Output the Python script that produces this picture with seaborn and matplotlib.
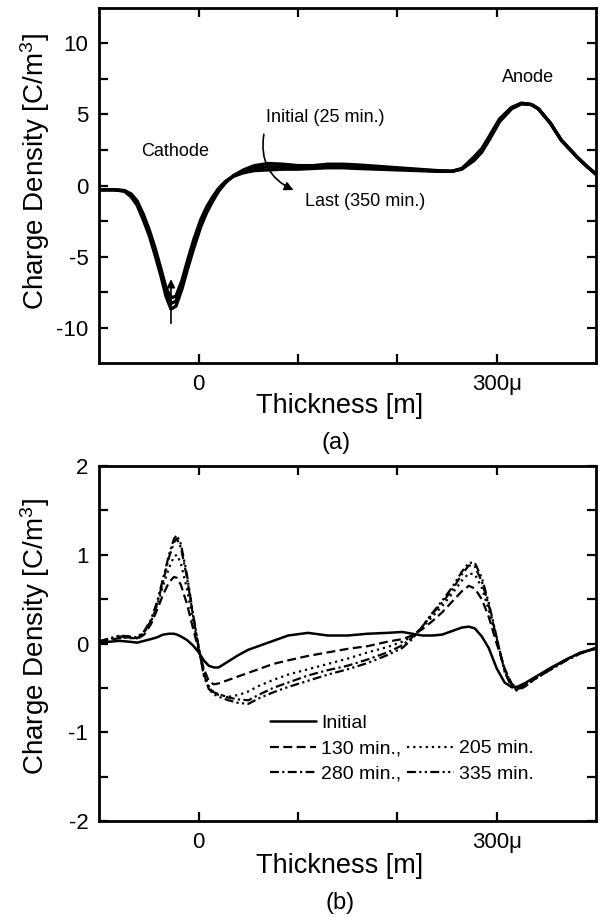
import matplotlib
matplotlib.use("Agg")
import matplotlib.pyplot as plt
from matplotlib.lines import Line2D
import seaborn as sns

# ---- panel (a): charge density, bundle of profiles 25 -> 350 min ----
x_top = [-100, -85, -75, -68, -62, -56, -50, -44, -38, -33, -28, -23, -17, -11,
         -5, 2, 8, 14, 20, 27, 35, 45, 56, 70, 85, 100, 115, 130, 145, 160,
         180, 200, 220, 240, 255, 265, 277, 285, 292, 303, 315, 325, 335, 342,
         354, 365, 381, 390, 400]
rho_first = [-0.30, -0.30, -0.40, -0.80, -1.40, -2.40, -3.50, -4.90, -6.40, -7.80,
             -8.70, -8.50, -7.30, -5.80, -4.40, -2.90, -1.90, -1.10, -0.40, 0.20,
             0.70, 1.10, 1.40, 1.55, 1.50, 1.40, 1.40, 1.50, 1.50, 1.45,
             1.35, 1.25, 1.15, 1.05, 1.00, 1.20, 2.00, 2.60, 3.40, 4.70,
             5.50, 5.80, 5.70, 5.40, 4.40, 3.20, 2.00, 1.40, 0.80]
rho_mid = [-0.30, -0.30, -0.38, -0.70, -1.25, -2.20, -3.30, -4.65, -6.15, -7.50,
           -8.30, -8.15, -7.00, -5.50, -4.10, -2.65, -1.70, -0.95, -0.30, 0.25,
           0.68, 1.00, 1.22, 1.32, 1.32, 1.28, 1.30, 1.38, 1.38, 1.32,
           1.25, 1.18, 1.10, 1.02, 1.00, 1.18, 1.88, 2.48, 3.28, 4.60,
           5.45, 5.78, 5.70, 5.40, 4.40, 3.20, 2.00, 1.40, 0.80]
rho_last = [-0.30, -0.30, -0.35, -0.60, -1.10, -2.00, -3.10, -4.40, -5.90, -7.20,
            -7.90, -7.80, -6.70, -5.20, -3.80, -2.40, -1.50, -0.80, -0.20, 0.30,
            0.65, 0.90, 1.05, 1.10, 1.15, 1.15, 1.20, 1.25, 1.25, 1.20,
            1.15, 1.10, 1.05, 1.00, 1.00, 1.15, 1.75, 2.35, 3.15, 4.50,
            5.40, 5.75, 5.70, 5.40, 4.40, 3.20, 2.00, 1.40, 0.80]

# ---- panel (b): difference profiles ----
x_bot = [-100, -90, -80, -70, -62, -55, -48, -42, -36, -30, -25, -22, -18, -12,
         -6, 0, 5, 10, 15, 20, 30, 40, 50, 60, 75, 90, 110, 130, 150, 170,
         190, 205, 215, 225, 235, 245, 255, 265, 272, 278, 285, 292, 300, 308,
         315, 320, 328, 340, 355, 370, 385, 400]
d_initial = [0.00, 0.02, 0.03, 0.02, 0.01, 0.03, 0.05, 0.07, 0.10, 0.11, 0.11, 0.10,
             0.08, 0.04, -0.02, -0.10, -0.19, -0.25, -0.27, -0.27, -0.20, -0.13,
             -0.07, -0.03, 0.03, 0.09, 0.12, 0.09, 0.09, 0.11, 0.12, 0.13, 0.11,
             0.09, 0.09, 0.10, 0.14, 0.18, 0.19, 0.17, 0.08, -0.05, -0.28, -0.44,
             -0.49, -0.49, -0.45, -0.37, -0.27, -0.18, -0.10, -0.06]
d_130 = [0.02, 0.04, 0.06, 0.07, 0.05, 0.10, 0.22, 0.38, 0.55, 0.69, 0.75, 0.74,
         0.66, 0.45, 0.18, -0.08, -0.28, -0.42, -0.46, -0.45, -0.41, -0.37,
         -0.33, -0.29, -0.23, -0.19, -0.14, -0.10, -0.06, -0.03, 0.02, 0.05, 0.09,
         0.16, 0.25, 0.35, 0.47, 0.59, 0.65, 0.62, 0.50, 0.30, 0.00, -0.28,
         -0.45, -0.50, -0.47, -0.38, -0.28, -0.18, -0.10, -0.05]
d_205 = [0.01, 0.05, 0.07, 0.06, 0.06, 0.12, 0.25, 0.43, 0.65, 0.85, 0.98, 1.00,
         0.90, 0.62, 0.27, -0.06, -0.30, -0.48, -0.55, -0.58, -0.60, -0.58,
         -0.54, -0.48, -0.41, -0.35, -0.29, -0.23, -0.17, -0.10, -0.04, 0.02, 0.08,
         0.18, 0.30, 0.42, 0.56, 0.71, 0.79, 0.78, 0.63, 0.38, 0.04, -0.29,
         -0.46, -0.50, -0.47, -0.38, -0.28, -0.18, -0.10, -0.05]
d_280 = [0.02, 0.06, 0.08, 0.07, 0.06, 0.13, 0.26, 0.45, 0.70, 0.97, 1.14, 1.18,
         1.08, 0.75, 0.33, -0.05, -0.34, -0.50, -0.55, -0.57, -0.61, -0.63,
         -0.64, -0.58, -0.50, -0.44, -0.36, -0.30, -0.25, -0.18, -0.10, -0.02, 0.07,
         0.19, 0.33, 0.46, 0.60, 0.78, 0.88, 0.87, 0.70, 0.43, 0.06, -0.31,
         -0.48, -0.52, -0.48, -0.39, -0.29, -0.19, -0.11, -0.05]
d_335 = [0.03, 0.05, 0.09, 0.08, 0.07, 0.14, 0.27, 0.47, 0.73, 1.00, 1.18, 1.22,
         1.12, 0.78, 0.35, -0.05, -0.36, -0.51, -0.57, -0.60, -0.64, -0.67,
         -0.68, -0.62, -0.55, -0.49, -0.42, -0.35, -0.29, -0.22, -0.13, -0.05, 0.05,
         0.19, 0.34, 0.48, 0.63, 0.81, 0.91, 0.91, 0.74, 0.46, 0.07, -0.32,
         -0.49, -0.53, -0.49, -0.39, -0.29, -0.19, -0.11, -0.05]

x_ticks = [0, 100, 200, 300]
x_ticklabels = ["0", "", "", "300\u03bc"]

sns.set_theme(style="ticks")
plt.rcParams["font.family"] = ["Liberation Sans", "DejaVu Sans"]
plt.rcParams["mathtext.fontset"] = "custom"
plt.rcParams["mathtext.rm"] = "Liberation Sans"
plt.rcParams["mathtext.default"] = "regular"
for key in ("text.color", "axes.labelcolor", "xtick.color", "ytick.color",
            "axes.edgecolor"):
    plt.rcParams[key] = "black"


def style_axes(ax, ylim, major, minor):
    ax.set_xlim(-100, 400)
    ax.set_ylim(*ylim)
    ax.set_xticks(x_ticks)
    ax.set_xticklabels(x_ticklabels)
    ax.set_yticks(major)
    ax.set_yticklabels([f"{v:g}" for v in major])
    ax.set_yticks(minor, minor=True)
    ax.tick_params(which="both", direction="in", length=6.5, width=1.6,
                   top=True, right=True, colors="black", labelsize=16, pad=8)
    for sp in ax.spines.values():
        sp.set_linewidth(2.0)
        sp.set_color("black")
        sp.set_visible(True)
    ax.set_ylabel("Charge Density [C/m$^3$]", fontsize=20, color="black")
    ax.set_xlabel("Thickness [m]", fontsize=19.5, color="black")


fig = plt.figure(figsize=(6.04, 9.17), dpi=100)
ax_a = fig.add_axes([0.1647, 0.6041, 0.822, 0.3872])
ax_b = fig.add_axes([0.1647, 0.1047, 0.822, 0.3871])

# (a)
for rho in (rho_first, rho_mid, rho_last):
    sns.lineplot(x=x_top, y=rho, ax=ax_a, color="black", lw=2.4,
                 sort=False, estimator=None, legend=False)
style_axes(ax_a, (-12.5, 12.5), [-10, -5, 0, 5, 10], [-7.5, -2.5, 2.5, 7.5])
ax_a.yaxis.set_label_coords(-0.095, 0.54)
ax_a.xaxis.set_label_coords(0.484, -0.083)

ax_a.text(-24, 2.4, "Cathode", fontsize=13, ha="center", va="center")
ax_a.text(332, 7.6, "Anode", fontsize=13, ha="center", va="center")
ax_a.text(127, 4.8, "Initial (25 min.)", fontsize=13, ha="center", va="center")
ax_a.text(168, -1.15, "Last (350 min.)", fontsize=13, ha="center", va="center")
ax_a.annotate("", xy=(98, -0.4), xytext=(66, 3.8),
              arrowprops=dict(arrowstyle="-|>", color="black", lw=1.2,
                              mutation_scale=13,
                              connectionstyle="arc3,rad=0.4"))
ax_a.annotate("", xy=(-28, -6.4), xytext=(-28, -9.9),
              arrowprops=dict(arrowstyle="-|>", color="black", lw=1.2,
                              mutation_scale=12))

# (b)
styles = [
    (d_initial, "-", 1.8),
    (d_130, (0, (4, 2)), 1.6),
    (d_205, (0, (1, 1.8)), 1.6),
    (d_280, (0, (4, 1.5, 1, 1.5)), 1.6),
    (d_335, (0, (4, 1.5, 1, 1.5, 1, 1.5)), 1.6),
]
for vals, ls, lw in styles:
    sns.lineplot(x=x_bot, y=vals, ax=ax_b, color="black", lw=lw, linestyle=ls,
                 sort=False, estimator=None, legend=False)
style_axes(ax_b, (-2, 2), [-2, -1, 0, 1, 2], [-1.5, -0.5, 0.5, 1.5])
ax_b.yaxis.set_label_coords(-0.095, 0.52)
ax_b.xaxis.set_label_coords(0.484, -0.089)

lines = ax_b.lines
blank = Line2D([], [], linestyle="none")
handles = [lines[0], lines[1], lines[3], blank, lines[2], lines[4]]
labels = ["Initial", "130 min.,", "280 min.,", "", "205 min.", "335 min."]
ax_b.legend(handles, labels, ncol=2, loc="upper left",
            bbox_to_anchor=(0.343, 0.30), frameon=False, fontsize=14,
            handlelength=2.4, handletextpad=0.25, columnspacing=0.3,
            labelspacing=0.4, borderpad=0, borderaxespad=0)

fig.text(336 / 604, 1 - 443 / 917, "(a)", fontsize=17, ha="center", va="center")
fig.text(340 / 604, 1 - 903 / 917, "(b)", fontsize=17, ha="center", va="center")

fig.savefig("out.png", dpi=100, facecolor="white")
